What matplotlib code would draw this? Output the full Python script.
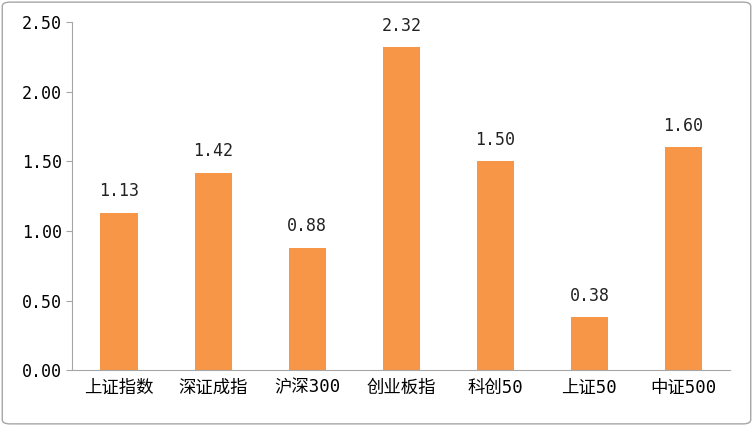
import matplotlib
matplotlib.use("Agg")
import matplotlib.pyplot as plt
from matplotlib.patches import FancyBboxPatch

categories = ["上证指数", "深证成指", "沪深300", "创业板指", "科创50", "上证50", "中证500"]
values = [1.13, 1.42, 0.88, 2.32, 1.50, 0.38, 1.60]
yticks = [0.0, 0.5, 1.0, 1.5, 2.0, 2.5]

plt.rcParams['font.family'] = ['DejaVu Sans Mono', 'Noto Sans CJK SC']

fig = plt.figure(figsize=(7.53, 4.26), dpi=100)
fig.patches.append(FancyBboxPatch((0.003, 0.005), 0.994, 0.99, boxstyle="round,pad=0,rounding_size=0.01",
                                  transform=fig.transFigure, fill=False, edgecolor="#A6A6A6", linewidth=1))
ax = fig.add_axes([0.096, 0.131, 0.874, 0.817])
x = range(len(categories))
bars = ax.bar(x, values, width=0.4, color="#F79646")
for xi, v in zip(x, values):
    ax.text(xi, v + 0.09, f"{v:.2f}", ha="center", va="bottom", fontsize=12, color="#222222")
ax.set_ylim(0, 2.5)
ax.set_xlim(-0.5, len(categories) - 0.5)
ax.set_yticks(yticks)
ax.set_yticklabels([f"{t:.2f}" for t in yticks], fontsize=12)
ax.set_xticks(list(x))
ax.set_xticklabels(categories, fontsize=12.5)
ax.tick_params(axis='x', length=0, pad=6)
ax.tick_params(axis='y', length=4, color="#A6A6A6")
for s in ["top", "right"]:
    ax.spines[s].set_visible(False)
for s in ["left", "bottom"]:
    ax.spines[s].set_color("#A6A6A6")
fig.savefig("out.png", dpi=100)
